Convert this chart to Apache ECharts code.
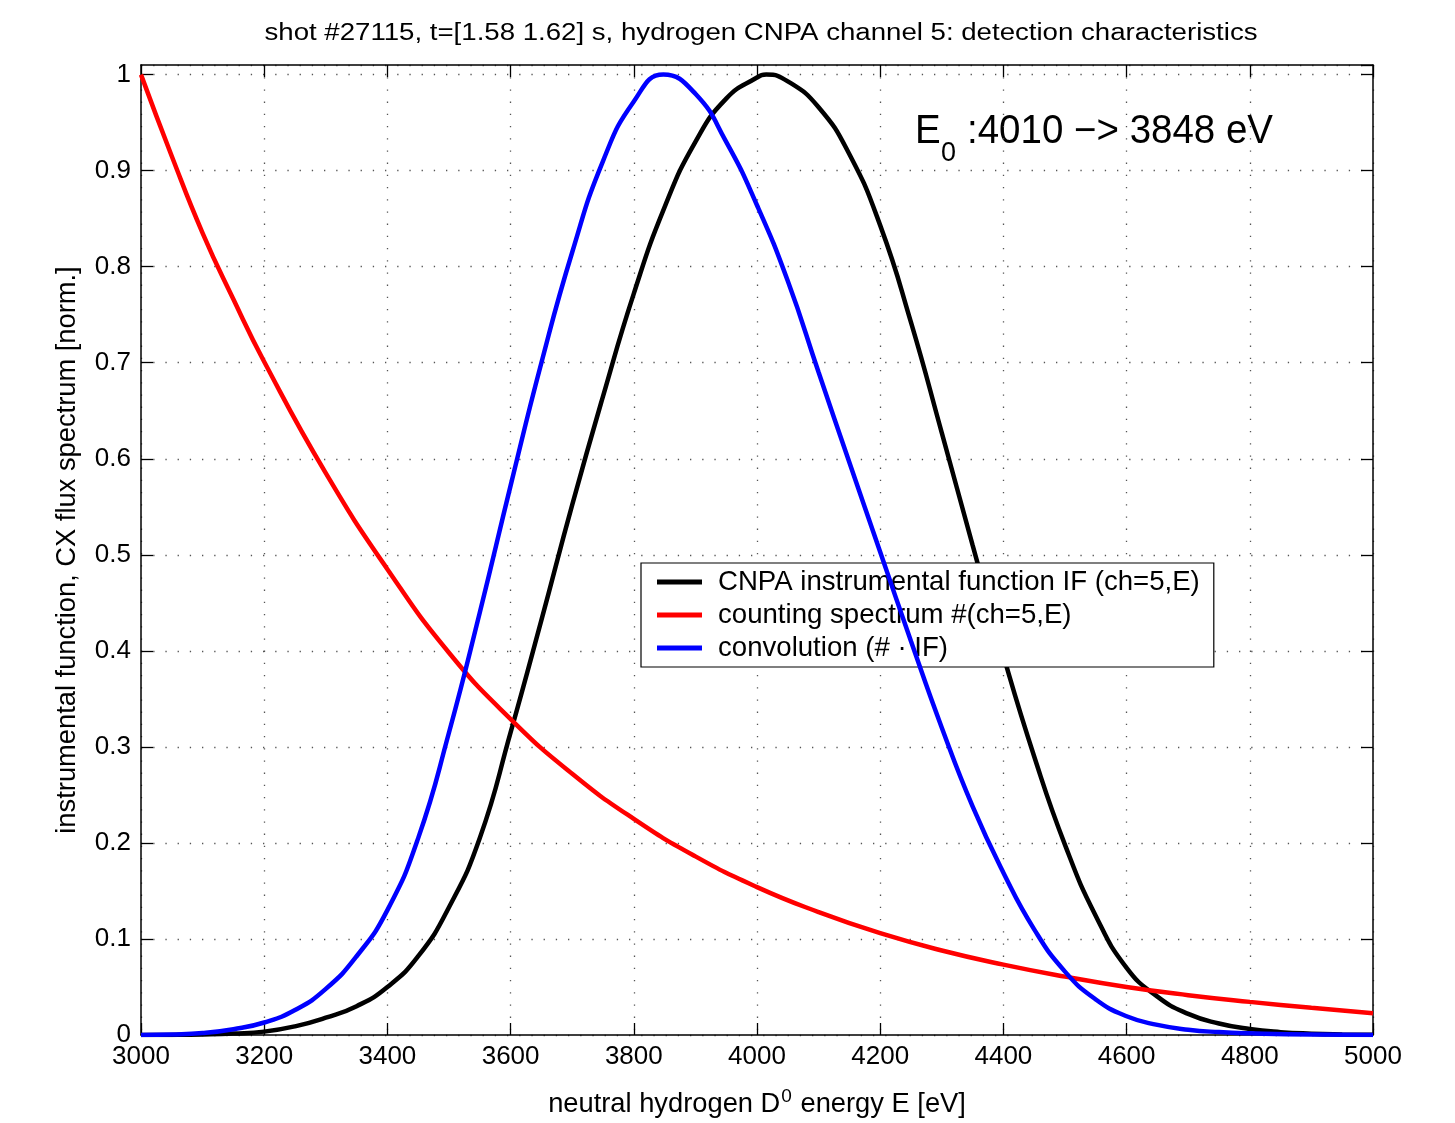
<!DOCTYPE html>
<html>
<head>
<meta charset="utf-8">
<script src="https://cdn.jsdelivr.net/npm/echarts@6/dist/echarts.min.js"></script>
<style>
html,body{margin:0;padding:0;background:#fff;}
#chart{width:1455px;height:1123px;}
</style>
</head>
<body>
<div id="chart"></div>
<script>
// ---- data ----
const xTicks = [3000, 3200, 3400, 3600, 3800, 4000, 4200, 4400, 4600, 4800, 5000];
const yTicks = [0, 0.1, 0.2, 0.3, 0.4, 0.5, 0.6, 0.7, 0.8, 0.9, 1];

// CNPA instrumental function IF (black)
const ifEnergy = [3000,3050,3100,3150,3200,3250,3300,3350,3400,3450,3500,3550,3600,3650,3700,3750,3800,3850,3900,3950,4000,4015,4050,4100,4150,4200,4250,4300,4350,4400,4450,4500,4550,4600,4650,4700,4750,4800,4850,4900,4950,5000];
const ifValues = [0,0.0001,0.0005,0.0015,0.0035,0.009,0.018,0.030,0.050,0.082,0.133,0.205,0.315,0.432,0.552,0.665,0.772,0.862,0.93,0.975,0.997,1.0,0.993,0.966,0.917,0.843,0.742,0.627,0.51,0.395,0.29,0.198,0.124,0.07,0.04,0.022,0.012,0.0062,0.003,0.0014,0.0006,0.0002];

// counting spectrum (red)
const countEnergy = [3000,3050,3100,3150,3200,3300,3400,3500,3600,3700,3800,3900,4000,4100,4200,4300,4400,4500,4600,4700,4800,4900,5000];
const countValues = [1.0,0.915,0.835,0.766,0.701,0.585,0.485,0.398,0.329,0.272,0.225,0.186,0.154,0.128,0.106,0.088,0.0733,0.0608,0.050,0.0415,0.0345,0.0283,0.0226];

// convolution (blue)
const convEnergy = [3000,3050,3100,3150,3200,3250,3300,3350,3400,3450,3500,3550,3600,3650,3700,3750,3800,3848,3900,3950,4000,4050,4100,4150,4200,4250,4300,4350,4400,4450,4500,4550,4600,4650,4700,4750,4800,4900,5000];
const convValues = [0,0.0005,0.002,0.006,0.013,0.026,0.048,0.082,0.13,0.205,0.315,0.44,0.572,0.70,0.815,0.91,0.972,1.0,0.98,0.93,0.864,0.785,0.69,0.596,0.503,0.41,0.32,0.238,0.169,0.11,0.066,0.037,0.0195,0.0105,0.0055,0.003,0.0017,0.0004,0.0001];

const seriesNames = ['CNPA instrumental function IF (ch=5,E)', 'counting spectrum #(ch=5,E)', 'convolution (# \u00b7 IF)'];
const titleText = 'shot #27115, t=[1.58 1.62] s, hydrogen CNPA channel 5: detection characteristics';

// ---- helpers ----
const FONT = "'Liberation Sans', Arial, Helvetica, sans-serif";
const ctx = document.createElement('canvas').getContext('2d');
function measure(text, size) { ctx.font = size + 'px ' + FONT; return ctx.measureText(text).width; }
function pairs(xs, ys) { return xs.map((x, i) => [x, ys[i]]); }

const titleSize = 23, titleScale = 993 / measure(titleText, titleSize);
const annMain = ':4010 \u2212> 3848 eV';
const annSize = 40, annScale = 306 / measure(annMain, annSize);
const subSize = 28, subScale = 15 / measure('0', subSize);

const chart = echarts.init(document.getElementById('chart'), null, { renderer: 'canvas' });
const gridLine = { show: true, lineStyle: { color: '#555', width: 1.3, type: [1.3, 10.9] } };
const axisLine = { show: true, onZero: false, lineStyle: { color: '#000', width: 1.5 } };
const tick = { show: true, inside: true, length: 12, lineStyle: { color: '#000', width: 1.3 } };
const yFmt = v => String(parseFloat(v.toFixed(1)));
const xFmt = v => String(Math.round(v));
const SMOOTH = 0.5;
const LW = 4.5;

chart.setOption({
  animation: false,
  backgroundColor: '#fff',
  textStyle: { fontFamily: FONT },
  grid: { left: 141, right: 82, top: 65, bottom: 88, containLabel: false },
  xAxis: [{
    type: 'value', min: 3000, max: 5000, interval: 200, position: 'bottom',
    axisLine: axisLine, axisTick: tick, splitLine: gridLine,
    axisLabel: { show: true, margin: 9, fontSize: 26, color: '#000', fontFamily: FONT, formatter: xFmt, showMaxLabel: true, showMinLabel: true },
    name: '{a|neutral hydrogen D}{s|0}{a| energy E [eV]}', nameLocation: 'middle', nameGap: 52,
    nameTextStyle: { rich: { a: { fontSize: 27.3, color: '#000', fontFamily: FONT }, s: { fontSize: 19, color: '#000', fontFamily: FONT, padding: [0, 1, 15, 1] } } }
  }, {
    type: 'value', min: 3000, max: 5000, interval: 200, position: 'top',
    axisLine: axisLine, axisTick: tick, splitLine: { show: false }, axisLabel: { show: false }
  }],
  yAxis: [{
    type: 'value', min: 0, max: 1.01, interval: 0.1, position: 'left',
    axisLine: axisLine, axisTick: tick, splitLine: gridLine,
    axisLabel: { show: true, margin: 10, fontSize: 26, color: '#000', fontFamily: FONT, formatter: yFmt },
    name: 'instrumental function, CX flux spectrum [norm.]', nameLocation: 'middle', nameGap: 60,
    nameTextStyle: { fontSize: 27.3, color: '#000', fontFamily: FONT }
  }, {
    type: 'value', min: 0, max: 1.01, interval: 0.1, position: 'right',
    axisLine: axisLine, axisTick: tick, splitLine: { show: false }, axisLabel: { show: false }
  }],
  legend: {
    data: seriesNames, orient: 'vertical', left: 641, top: 563,
    backgroundColor: '#fff', borderColor: '#000', borderWidth: 1.2, borderRadius: 0,
    padding: [5, 14, 5, 16], itemWidth: 45, itemHeight: 5, itemGap: 5, icon: 'rect',
    selectedMode: false,
    textStyle: { fontSize: 27.6, color: '#000', fontFamily: FONT, lineHeight: 26, padding: [0, 0, 0, 11] }
  },
  graphic: [
    { type: 'text', x: 761, y: 34, scaleX: titleScale, style: { text: titleText, fontSize: titleSize, fontFamily: FONT, fill: '#000', textAlign: 'center', textVerticalAlign: 'middle' } },
    { type: 'text', x: 915, y: 132, scaleX: annScale, style: { text: 'E', fontSize: annSize, fontFamily: FONT, fill: '#000', textAlign: 'left', textVerticalAlign: 'middle' } },
    { type: 'text', x: 941, y: 153, scaleX: subScale, style: { text: '0', fontSize: subSize, fontFamily: FONT, fill: '#000', textAlign: 'left', textVerticalAlign: 'middle' } },
    { type: 'text', x: 967, y: 132, scaleX: annScale, style: { text: annMain, fontSize: annSize, fontFamily: FONT, fill: '#000', textAlign: 'left', textVerticalAlign: 'middle' } }
  ],
  series: [
    { name: seriesNames[0], type: 'line', data: pairs(ifEnergy, ifValues), smooth: SMOOTH, showSymbol: false, lineStyle: { color: '#000', width: LW }, itemStyle: { color: '#000' }, z: 3 },
    { name: seriesNames[1], type: 'line', data: pairs(countEnergy, countValues), smooth: SMOOTH, showSymbol: false, lineStyle: { color: '#ff0000', width: LW }, itemStyle: { color: '#ff0000' }, z: 4 },
    { name: seriesNames[2], type: 'line', data: pairs(convEnergy, convValues), smooth: SMOOTH, showSymbol: false, lineStyle: { color: '#0000ff', width: LW }, itemStyle: { color: '#0000ff' }, z: 5 }
  ]
});
</script>
</body>
</html>
